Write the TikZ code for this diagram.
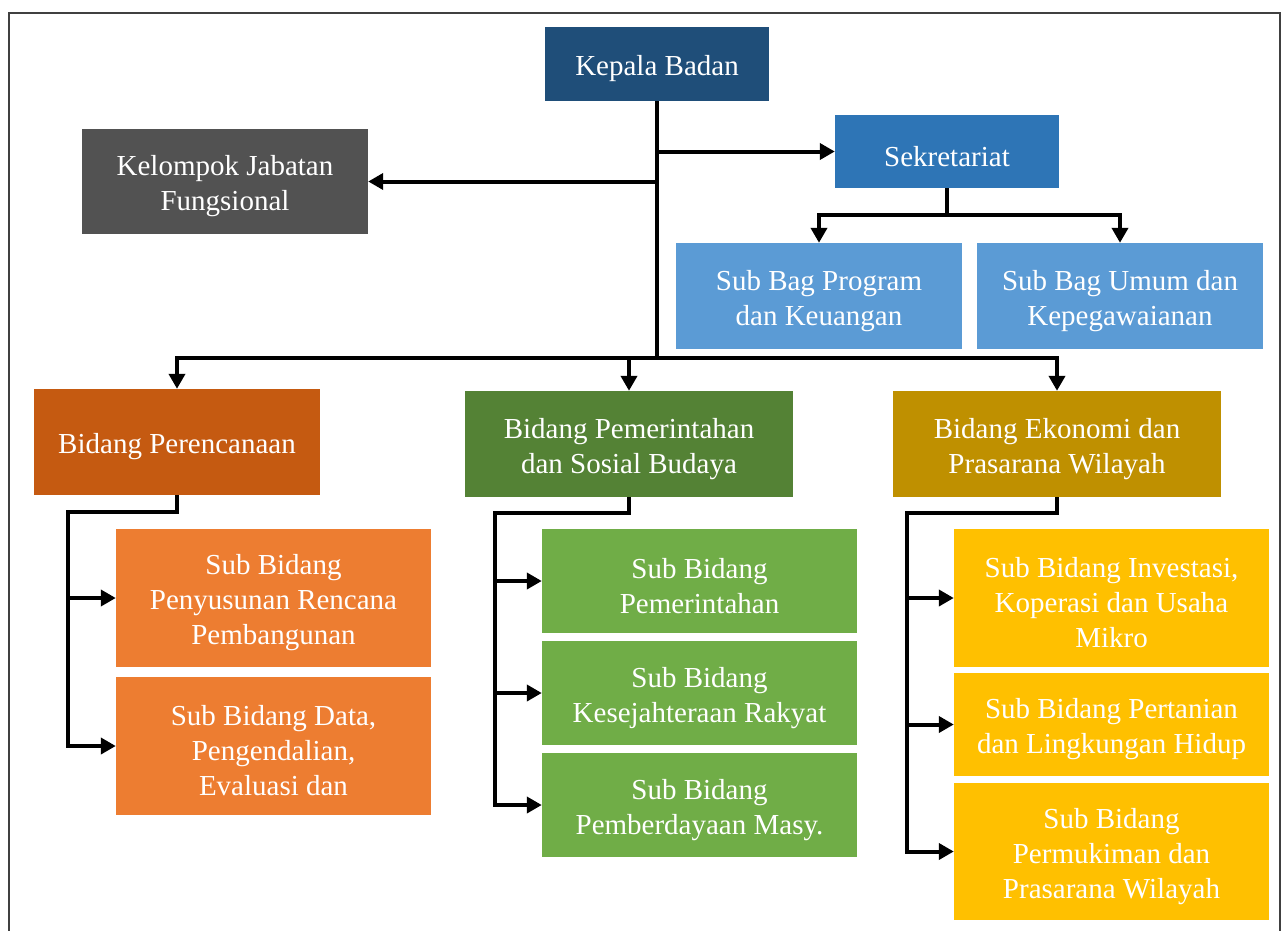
\documentclass[tikz,border=0pt]{standalone}
\usepackage{fontspec}
\setmainfont{Liberation Serif}
\usetikzlibrary{arrows.meta}
\definecolor{ckb}{HTML}{1F4E79}
\definecolor{csek}{HTML}{2E75B6}
\definecolor{ckjf}{HTML}{525252}
\definecolor{csub}{HTML}{5B9BD5}
\definecolor{cbp}{HTML}{C55A11}
\definecolor{csp}{HTML}{ED7D31}
\definecolor{cbg}{HTML}{548235}
\definecolor{csg}{HTML}{70AD47}
\definecolor{cbe}{HTML}{BF9000}
\definecolor{cse}{HTML}{FFC000}
\definecolor{cframe}{HTML}{404040}
\newcommand\obox[7]{%
  \node[boxfill, fill=#2, minimum width=#5pt, minimum height=#6pt] (#1) at (#3,#4) {};
  \node[boxtext] (#1-t) at ([yshift=-5pt]#1.center) {#7};}
\begin{document}
\begin{tikzpicture}[x=1pt,y=-1pt,
  boxfill/.style={draw=none, inner sep=0pt},
  boxtext/.style={inner sep=0pt, align=center, text=white,
    font=\fontsize{29}{35}\selectfont},
  conn/.style={line width=4pt, line join=miter},
  arr/.style={conn, -{Triangle[length=15pt,width=16pt]}}]
\useasboundingbox (0,0) rectangle (1282,930);
\draw[line width=2pt, cframe] (9,932) -- (9,13) -- (1280,13) -- (1280,932);

% nodes
\obox{kb}{ckb}{657}{64}{224}{74}{Kepala Badan}
\obox{sek}{csek}{947}{151.5}{224}{73}{Sekretariat}
\obox{kjf}{ckjf}{225}{181.5}{286}{105}{Kelompok Jabatan\\Fungsional}
\obox{sbp}{csub}{819}{296}{286}{106}{Sub Bag Program\\dan Keuangan}
\obox{sbu}{csub}{1120}{296}{286}{106}{Sub Bag Umum dan\\Kepegawaianan}

\obox{bp}{cbp}{177}{442}{286}{106}{Bidang Perencanaan}
\obox{bg}{cbg}{629}{444}{328}{106}{Bidang Pemerintahan\\dan Sosial Budaya}
\obox{be}{cbe}{1057}{444}{328}{106}{Bidang Ekonomi dan\\Prasarana Wilayah}

\obox{sp1}{csp}{273.5}{598}{315}{138}{Sub Bidang\\Penyusunan Rencana\\Pembangunan}
\obox{sp2}{csp}{273.5}{746}{315}{138}{Sub Bidang Data,\\Pengendalian,\\Evaluasi dan}

\obox{sg1}{csg}{699.5}{581}{315}{104}{Sub Bidang\\Pemerintahan}
\obox{sg2}{csg}{699.5}{693}{315}{104}{Sub Bidang\\Kesejahteraan Rakyat}
\obox{sg3}{csg}{699.5}{805}{315}{104}{Sub Bidang\\Pemberdayaan Masy.}

\obox{se1}{cse}{1111.5}{598}{315}{138}{Sub Bidang Investasi,\\Koperasi dan Usaha\\Mikro}
\obox{se2}{cse}{1111.5}{724.5}{315}{103}{Sub Bidang Pertanian\\dan Lingkungan Hidup}
\obox{se3}{cse}{1111.5}{851.5}{315}{137}{Sub Bidang\\Permukiman dan\\Prasarana Wilayah}

% junction coordinates
\coordinate (j) at (657,358);
\coordinate (sj) at (947,215);
\coordinate (pl) at (68,512);
\coordinate (gl) at (495,513);
\coordinate (el) at (907,513);

% connectors
\draw[conn] (kb.south) -- (j);
\draw[arr] (kb.south |- sek.west) -- (sek.west);
\draw[arr] (kb.south |- kjf.east) -- (kjf.east);
\draw[arr] (j) -| (bp.north);
\draw[arr] (j) -| (be.north);
\draw[arr] (j -| bg.north) -- (bg.north);

\draw[conn] (sek.south) -- (sj);
\draw[arr] (sj) -| (sbp.north);
\draw[arr] (sj) -| (sbu.north);

\draw[arr] (bp.south) |- (pl) |- (sp2.west);
\draw[arr] (pl |- sp1.west) -- (sp1.west);

\draw[arr] (bg.south) |- (gl) |- (sg3.west);
\draw[arr] (gl |- sg1.west) -- (sg1.west);
\draw[arr] (gl |- sg2.west) -- (sg2.west);

\draw[arr] (be.south) |- (el) |- (se3.west);
\draw[arr] (el |- se1.west) -- (se1.west);
\draw[arr] (el |- se2.west) -- (se2.west);
\end{tikzpicture}
\end{document}
